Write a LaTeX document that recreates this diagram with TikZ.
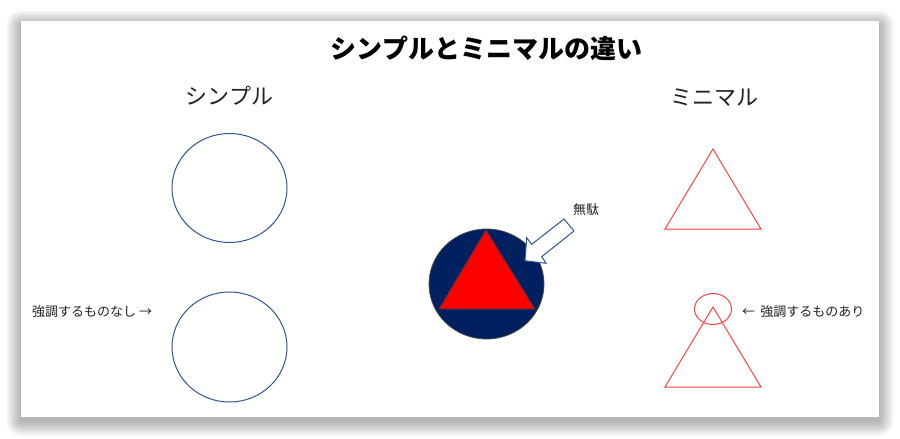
\documentclass[tikz,border=0pt]{standalone}
\usepackage{fontspec}
\setmainfont{Noto Sans CJK JP}
\definecolor{navyline}{HTML}{2F5597}
\definecolor{darknavy}{HTML}{002060}
\definecolor{lightred}{HTML}{FF4040}
\definecolor{txt}{HTML}{222222}
\tikzset{
  lbl/.style={inner sep=0pt, text=txt, font=\fontsize{13}{15}\selectfont},
  heading/.style={inner sep=0pt, text=txt, font=\fontsize{22}{25}\selectfont},
  simpleshape/.style={draw=navyline, line width=1pt},
  minshape/.style={draw=lightred, line width=1pt},
  shadowlayer/.style={fill=black, opacity=0.02},
}
\begin{document}
\begin{tikzpicture}[x=1pt,y=-1pt]
\useasboundingbox (0,0) rectangle (900,439);
\fill[white] (0,0) rectangle (900,439);
\foreach \i in {1,...,15}{
  \fill[shadowlayer, rounded corners=\i pt] (21-\i,21-\i+4) rectangle (879+\i,417+\i+4);
}
\fill[white] (21,21) rectangle (879,417);

% title
\node[inner sep=0pt, text=black, font=\fontsize{26}{29}\selectfont\bfseries] (title) at (486.5,48) {シンプルとミニマルの違い};
\node[heading] (hsimple) at (229.5,96) {シンプル};
\node[heading] (hminimal) at (714,98) {ミニマル};

% simple circles
\coordinate (c1) at (229.5,188);
\coordinate (c2) at (229.5,347);
\draw[simpleshape] (c1) ellipse [x radius=57.5, y radius=54.5];
\draw[simpleshape] (c2) ellipse [x radius=57.5, y radius=55];
\node[lbl, anchor=west] (nashi) at (32,312) {強調するものなし →};

% middle
\coordinate (mc) at (486.5,284);
\filldraw[fill=darknavy, draw=black!70, line width=0.8pt] (mc) ellipse [x radius=57.5, y radius=55];
\filldraw[fill=red, draw=black!75, line width=0.8pt] (486,230) -- (535,309) -- (439,309) -- cycle;
\filldraw[fill=white, draw=navyline, line width=1pt] (525,260.7) -- (526.7,237.7) -- (531.7,244.3) -- (564,219) -- (574,231) -- (541.7,256.7) -- (546,263.3) -- cycle;
\node[lbl] (muda) at (586,210) {無駄};

% minimal
\draw[minshape] (713,149) -- (761,229) -- (665,229) -- cycle;
\draw[minshape] (713,307) -- (761,387) -- (665,387) -- cycle;
\draw[minshape] (713,309) ellipse [x radius=18.5, y radius=15.5];
\node[lbl, anchor=west] (ari) at (742,312) {←\hspace{0.4em}強調するものあり};
\end{tikzpicture}
\end{document}
